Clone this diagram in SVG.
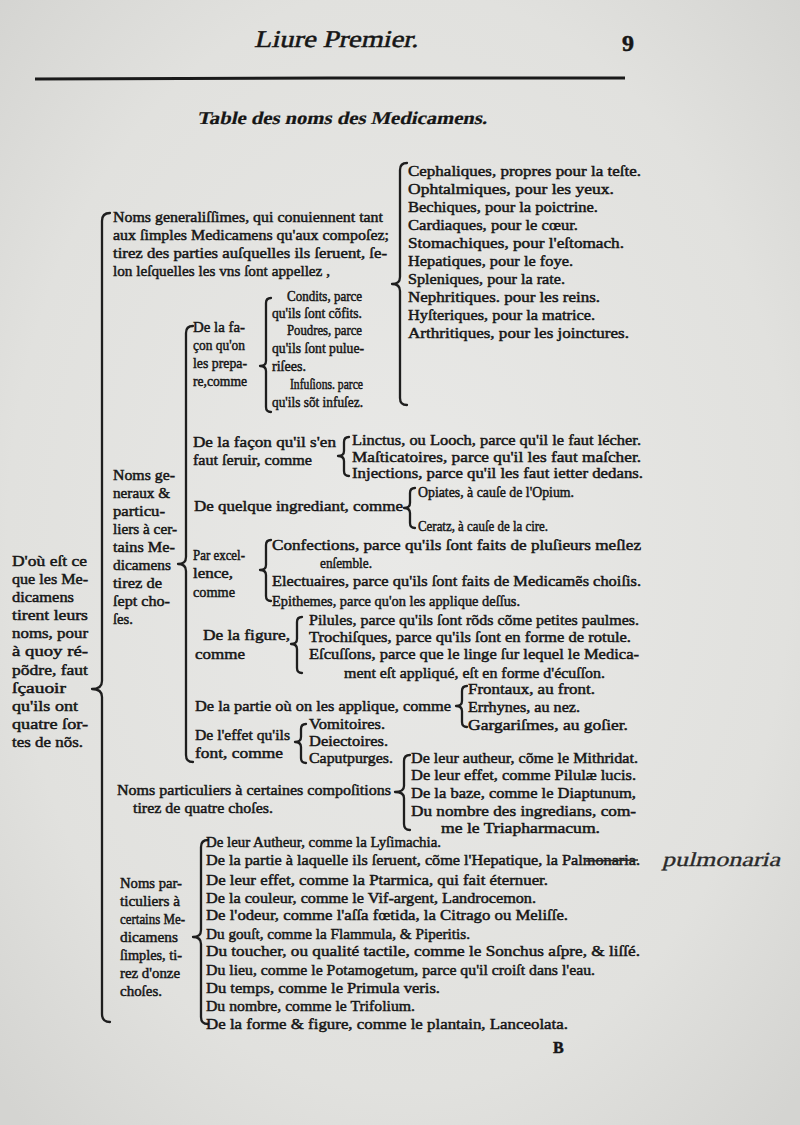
<svg xmlns="http://www.w3.org/2000/svg" width="800" height="1125" viewBox="0 0 800 1125">
<defs>
<radialGradient id="paper" cx="50%" cy="48%" r="70%">
<stop offset="0" stop-color="#e9e9e7"/>
<stop offset="0.7" stop-color="#e1e1de"/>
<stop offset="1" stop-color="#d4d4d1"/>
</radialGradient>
<style>
text{font-family:"Liberation Serif","DejaVu Serif",serif;fill:#161616;stroke:#161616;stroke-width:0.5px;font-size:15.5px}
.hd{font-size:24px;stroke-width:0.5px}
.ti{font-size:18px;font-weight:bold;stroke-width:0.2px}
.sm{font-size:15px}
.hand{font-size:20px;fill:#2a2a2a;stroke:#2a2a2a;stroke-width:0.3px}
.br{fill:none;stroke:#1e1e1e;stroke-width:2.3;stroke-linecap:round;stroke-linejoin:round}
</style>
</defs>
<rect width="800" height="1125" fill="url(#paper)"/>

<g id="header">
<g transform="translate(254,47) skewX(-13)"><text class="hd" x="0" y="0" textLength="164" lengthAdjust="spacingAndGlyphs">Liure Premier.</text></g>
<text x="622" y="51" style="font-size:24px;font-weight:bold">9</text>
<path d="M35,79 L330,78 L625,78" fill="none" stroke="#1a1a1a" stroke-width="3"/>
<g transform="translate(197,124) skewX(-13)"><text class="ti" x="0" y="0" textLength="290" lengthAdjust="spacingAndGlyphs">Table des noms des Medicamens.</text></g>
</g>

<g id="connectors">
<path class="br" d="M110,213 Q102,213 102,221 L102,681 Q102,689 92,689 Q102,689 102,697 L102,1014 Q102,1022 110,1022"/>
<path class="br" d="M407,163 Q400,163 400,170 L400,277 Q400,284 392,284 Q400,284 400,291 L400,398 Q400,405 407,405"/>
<path class="br" d="M193,326 Q186,326 186,333 L186,557 Q186,564 178,564 Q186,564 186,571 L186,755 Q186,762 193,762"/>
<path class="br" d="M271,298 Q266,298 266,303 L266,361 Q266,366 260,366 Q266,366 266,371 L266,407 Q266,412 271,412"/>
<path class="br" d="M349,437 Q344,437 344,442 L344,451 Q344,456 338,456 Q344,456 344,461 L344,471 Q344,476 349,476"/>
<path class="br" d="M415,488 Q410,488 410,493 L410,503 Q410,508 404,508 Q410,508 410,513 L410,523 Q410,528 415,528"/>
<path class="br" d="M271,540 Q266,540 266,545 L266,565 Q266,570 260,570 Q266,570 266,575 L266,596 Q266,601 271,601"/>
<path class="br" d="M302,617 Q297,617 297,622 L297,639 Q297,644 291,644 Q297,644 297,649 L297,668 Q297,673 302,673"/>
<path class="br" d="M467,686 Q462,686 462,691 L462,701 Q462,706 456,706 Q462,706 462,711 L462,722 Q462,727 467,727"/>
<path class="br" d="M306,724 Q301,724 301,729 L301,737 Q301,742 295,742 Q301,742 301,747 L301,758 Q301,763 306,763"/>
<path class="br" d="M410,755 Q404,755 404,761 L404,786 Q404,792 395,792 Q404,792 404,798 L404,824 Q404,830 410,830"/>
<path class="br" d="M208,840 Q201,840 201,847 L201,930 Q201,937 193,937 Q201,937 201,944 L201,1017 Q201,1024 208,1024"/>
</g>

<g id="root">
<text x="12" y="566" textLength="75" lengthAdjust="spacingAndGlyphs">D'où eſt ce</text>
<text x="12" y="584" textLength="76" lengthAdjust="spacingAndGlyphs">que les Me-</text>
<text x="12" y="602" textLength="62" lengthAdjust="spacingAndGlyphs">dicamens</text>
<text x="12" y="620" textLength="76" lengthAdjust="spacingAndGlyphs">tirent leurs</text>
<text x="12" y="638" textLength="76" lengthAdjust="spacingAndGlyphs">noms, pour</text>
<text x="12" y="656" textLength="76" lengthAdjust="spacingAndGlyphs">à quoy ré-</text>
<text x="12" y="675" textLength="76" lengthAdjust="spacingAndGlyphs">põdre, faut</text>
<text x="12" y="693" textLength="54" lengthAdjust="spacingAndGlyphs">ſçauoir</text>
<text x="12" y="711" textLength="66" lengthAdjust="spacingAndGlyphs">qu'ils ont</text>
<text x="12" y="729" textLength="76" lengthAdjust="spacingAndGlyphs">quatre ſor-</text>
<text x="12" y="747" textLength="71" lengthAdjust="spacingAndGlyphs">tes de nõs.</text>
</g>

<g id="generalissimes">
<text x="113" y="222" textLength="270" lengthAdjust="spacingAndGlyphs">Noms generaliſſimes, qui conuiennent tant</text>
<text x="113" y="240" textLength="276" lengthAdjust="spacingAndGlyphs">aux ſimples Medicamens qu'aux compoſez;</text>
<text x="113" y="258" textLength="274" lengthAdjust="spacingAndGlyphs">tirez des parties auſquelles ils ſeruent, ſe-</text>
<text x="113" y="276" textLength="217" lengthAdjust="spacingAndGlyphs">lon leſquelles les vns ſont appellez ,</text>
</g>

<g id="parties">
<text x="408" y="176" textLength="233" lengthAdjust="spacingAndGlyphs">Cephaliques,  propres pour la teſte.</text>
<text x="408" y="194" textLength="206" lengthAdjust="spacingAndGlyphs">Ophtalmiques, pour les yeux.</text>
<text x="408" y="212" textLength="190" lengthAdjust="spacingAndGlyphs">Bechiques, pour la poictrine.</text>
<text x="408" y="230" textLength="170" lengthAdjust="spacingAndGlyphs">Cardiaques, pour le cœur.</text>
<text x="408" y="248" textLength="216" lengthAdjust="spacingAndGlyphs">Stomachiques, pour l'eſtomach.</text>
<text x="408" y="266" textLength="165" lengthAdjust="spacingAndGlyphs">Hepatiques, pour le foye.</text>
<text x="408" y="284" textLength="157" lengthAdjust="spacingAndGlyphs">Spleniques, pour la rate.</text>
<text x="408" y="302" textLength="192" lengthAdjust="spacingAndGlyphs">Nephritiques. pour les reins.</text>
<text x="408" y="320" textLength="187" lengthAdjust="spacingAndGlyphs">Hyſteriques, pour la matrice.</text>
<text x="408" y="338" textLength="221" lengthAdjust="spacingAndGlyphs">Arthritiques, pour les joinctures.</text>
</g>

<g id="generaux">
<text x="113" y="480" textLength="62" lengthAdjust="spacingAndGlyphs">Noms ge-</text>
<text x="113" y="498" textLength="57" lengthAdjust="spacingAndGlyphs">neraux &amp;</text>
<text x="113" y="516" textLength="52" lengthAdjust="spacingAndGlyphs">particu-</text>
<text x="113" y="534" textLength="64" lengthAdjust="spacingAndGlyphs">liers à cer-</text>
<text x="113" y="552" textLength="62" lengthAdjust="spacingAndGlyphs">tains Me-</text>
<text x="113" y="570" textLength="58" lengthAdjust="spacingAndGlyphs">dicamens</text>
<text x="113" y="588" textLength="49" lengthAdjust="spacingAndGlyphs">tirez de</text>
<text x="113" y="606" textLength="57" lengthAdjust="spacingAndGlyphs">ſept cho-</text>
<text x="113" y="624" textLength="20" lengthAdjust="spacingAndGlyphs">ſes.</text>
</g>

<g id="preparation">
<text x="193" y="332" textLength="52" lengthAdjust="spacingAndGlyphs">De la fa-</text>
<text x="193" y="350" textLength="52" lengthAdjust="spacingAndGlyphs">çon qu'on</text>
<text x="193" y="368" textLength="54" lengthAdjust="spacingAndGlyphs">les prepa-</text>
<text x="193" y="386" textLength="54" lengthAdjust="spacingAndGlyphs">re,comme</text>
</g>
<g id="preparation-items">
<text class="sm" x="287" y="301" textLength="75" lengthAdjust="spacingAndGlyphs">Condits, parce</text>
<text class="sm" x="272" y="318" textLength="90" lengthAdjust="spacingAndGlyphs">qu'ils ſont cõfits.</text>
<text class="sm" x="287" y="335" textLength="75" lengthAdjust="spacingAndGlyphs">Poudres, parce</text>
<text class="sm" x="272" y="353" textLength="92" lengthAdjust="spacingAndGlyphs">qu'ils ſont pulue-</text>
<text class="sm" x="272" y="371" textLength="34" lengthAdjust="spacingAndGlyphs">riſees.</text>
<text class="sm" x="290" y="389" textLength="73" lengthAdjust="spacingAndGlyphs">Infuſions. parce</text>
<text class="sm" x="272" y="407" textLength="91" lengthAdjust="spacingAndGlyphs">qu'ils sõt infuſez.</text>
</g>

<g id="usage">
<text x="193" y="447" textLength="143" lengthAdjust="spacingAndGlyphs">De la façon qu'il s'en</text>
<text x="193" y="465" textLength="119" lengthAdjust="spacingAndGlyphs">faut ſeruir, comme</text>
</g>
<g id="usage-items">
<text x="352" y="445" textLength="289" lengthAdjust="spacingAndGlyphs">Linctus, ou Looch, parce qu'il le faut lécher.</text>
<text x="352" y="462" textLength="289" lengthAdjust="spacingAndGlyphs">Maſticatoires, parce qu'il les faut maſcher.</text>
<text x="352" y="478" textLength="291" lengthAdjust="spacingAndGlyphs">Injections, parce qu'il les faut ietter dedans.</text>
</g>

<g id="ingrediant">
<text x="194" y="511" textLength="209" lengthAdjust="spacingAndGlyphs">De quelque ingrediant, comme</text>
</g>
<g id="ingrediant-items">
<text x="418" y="497" textLength="156" lengthAdjust="spacingAndGlyphs">Opiates, à cauſe de l'Opium.</text>
<text x="418" y="531" textLength="130" lengthAdjust="spacingAndGlyphs">Ceratz, à cauſe de la cire.</text>
</g>

<g id="excellence">
<text x="193" y="560" textLength="52" lengthAdjust="spacingAndGlyphs">Par excel-</text>
<text x="193" y="578" textLength="40" lengthAdjust="spacingAndGlyphs">lence,</text>
<text x="193" y="597" textLength="42" lengthAdjust="spacingAndGlyphs">comme</text>
</g>
<g id="excellence-items">
<text x="272" y="550" textLength="369" lengthAdjust="spacingAndGlyphs">Confections, parce qu'ils ſont faits de pluſieurs meſlez</text>
<text x="320" y="568" textLength="52" lengthAdjust="spacingAndGlyphs">enſemble.</text>
<text x="272" y="586" textLength="369" lengthAdjust="spacingAndGlyphs">Electuaires, parce qu'ils ſont faits de Medicamẽs choiſis.</text>
<text x="272" y="606" textLength="248" lengthAdjust="spacingAndGlyphs">Epithemes, parce qu'on les applique deſſus.</text>
</g>

<g id="figure">
<text x="203" y="640" textLength="87" lengthAdjust="spacingAndGlyphs">De la figure,</text>
<text x="195" y="659" textLength="50" lengthAdjust="spacingAndGlyphs">comme</text>
</g>
<g id="figure-items">
<text x="309" y="625" textLength="330" lengthAdjust="spacingAndGlyphs">Pilules, parce qu'ils ſont rõds cõme petites paulmes.</text>
<text x="309" y="642" textLength="322" lengthAdjust="spacingAndGlyphs">Trochiſques, parce qu'ils ſont en forme de rotule.</text>
<text x="309" y="659" textLength="330" lengthAdjust="spacingAndGlyphs">Eſcuſſons, parce que le linge ſur lequel le Medica-</text>
<text x="344" y="678" textLength="261" lengthAdjust="spacingAndGlyphs">ment eſt appliqué, eſt en forme d'écuſſon.</text>
</g>

<g id="partie">
<text x="195" y="711" textLength="256" lengthAdjust="spacingAndGlyphs">De la partie où on les applique, comme</text>
</g>
<g id="partie-items">
<text x="468" y="694" textLength="127" lengthAdjust="spacingAndGlyphs">Frontaux, au front.</text>
<text x="468" y="712" textLength="112" lengthAdjust="spacingAndGlyphs">Errhynes, au nez.</text>
<text x="468" y="730" textLength="160" lengthAdjust="spacingAndGlyphs">Gargariſmes, au goſier.</text>
</g>

<g id="effet">
<text x="195" y="740" textLength="95" lengthAdjust="spacingAndGlyphs">De l'effet qu'ils</text>
<text x="195" y="758" textLength="88" lengthAdjust="spacingAndGlyphs">font, comme</text>
</g>
<g id="effet-items">
<text x="309" y="729" textLength="76" lengthAdjust="spacingAndGlyphs">Vomitoires.</text>
<text x="309" y="746" textLength="79" lengthAdjust="spacingAndGlyphs">Deiectoires.</text>
<text x="309" y="763" textLength="84" lengthAdjust="spacingAndGlyphs">Caputpurges.</text>
</g>

<g id="compositions">
<text x="117" y="795" textLength="274" lengthAdjust="spacingAndGlyphs">Noms particuliers à certaines compoſitions</text>
<text x="133" y="813" textLength="140" lengthAdjust="spacingAndGlyphs">tirez de quatre choſes.</text>
</g>
<g id="compositions-items">
<text x="411" y="763" textLength="227" lengthAdjust="spacingAndGlyphs">De leur autheur, cõme le Mithridat.</text>
<text x="411" y="780" textLength="225" lengthAdjust="spacingAndGlyphs">De leur effet, comme Pilulæ lucis.</text>
<text x="411" y="798" textLength="225" lengthAdjust="spacingAndGlyphs">De la baze, comme le Diaptunum,</text>
<text x="411" y="816" textLength="225" lengthAdjust="spacingAndGlyphs">Du nombre des ingredians, com-</text>
<text x="441" y="833" textLength="159" lengthAdjust="spacingAndGlyphs">me le Triapharmacum.</text>
</g>

<g id="simples">
<text x="120" y="888" textLength="62" lengthAdjust="spacingAndGlyphs">Noms par-</text>
<text x="120" y="906" textLength="60" lengthAdjust="spacingAndGlyphs">ticuliers à</text>
<text x="120" y="924" textLength="65" lengthAdjust="spacingAndGlyphs">certains Me-</text>
<text x="120" y="942" textLength="58" lengthAdjust="spacingAndGlyphs">dicamens</text>
<text x="120" y="960" textLength="62" lengthAdjust="spacingAndGlyphs">ſimples, ti-</text>
<text x="120" y="978" textLength="60" lengthAdjust="spacingAndGlyphs">rez d'onze</text>
<text x="120" y="996" textLength="42" lengthAdjust="spacingAndGlyphs">choſes.</text>
</g>
<g id="simples-items">
<text x="206" y="847" textLength="235" lengthAdjust="spacingAndGlyphs">De leur Autheur, comme la Lyſimachia.</text>
<text x="206" y="865" textLength="434" lengthAdjust="spacingAndGlyphs">De la partie à laquelle ils ſeruent, cõme l'Hepatique, la Palmonaria.</text>
<text x="206" y="885" textLength="342" lengthAdjust="spacingAndGlyphs">De leur effet, comme la Ptarmica, qui fait éternuer.</text>
<text x="206" y="903" textLength="330" lengthAdjust="spacingAndGlyphs">De la couleur, comme le Vif-argent, Landrocemon.</text>
<text x="206" y="920" textLength="362" lengthAdjust="spacingAndGlyphs">De l'odeur, comme l'aſſa fœtida, la Citrago ou Meliſſe.</text>
<text x="206" y="939" textLength="264" lengthAdjust="spacingAndGlyphs">Du gouſt, comme la Flammula, &amp; Piperitis.</text>
<text x="206" y="956" textLength="434" lengthAdjust="spacingAndGlyphs">Du toucher, ou qualité tactile, comme le Sonchus aſpre, &amp; liſſé.</text>
<text x="206" y="975" textLength="389" lengthAdjust="spacingAndGlyphs">Du lieu, comme le Potamogetum, parce qu'il croiſt dans l'eau.</text>
<text x="206" y="993" textLength="234" lengthAdjust="spacingAndGlyphs">Du temps, comme le Primula veris.</text>
<text x="206" y="1011" textLength="209" lengthAdjust="spacingAndGlyphs">Du nombre, comme le Trifolium.</text>
<text x="206" y="1029" textLength="362" lengthAdjust="spacingAndGlyphs">De la forme &amp; figure, comme le plantain, Lanceolata.</text>
<path d="M586,861 L638,860" stroke="#2a2a2a" stroke-width="1.6"/>
</g>

<g id="annotation">
<g transform="translate(662,866) skewX(-15)"><text class="hand" x="0" y="0" textLength="118" lengthAdjust="spacingAndGlyphs">pulmonaria</text></g>
</g>

<g id="signature">
<text x="553" y="1053" style="font-size:16px;font-weight:bold">B</text>
</g>
</svg>
